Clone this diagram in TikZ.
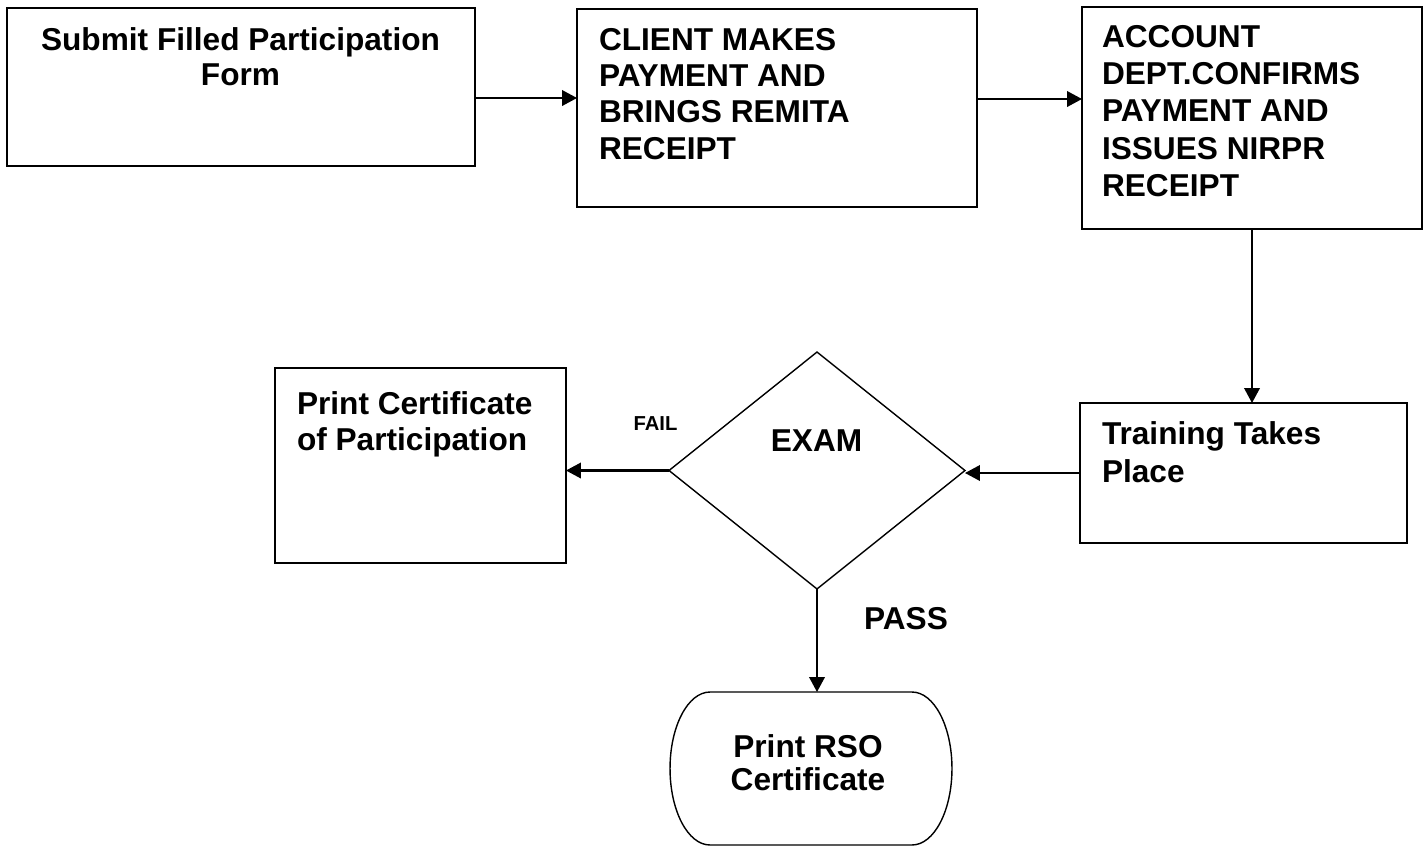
\documentclass[tikz,border=0pt]{standalone}
\usepackage{fontspec}
\setmainfont{Liberation Sans}
\usetikzlibrary{arrows.meta,shapes.geometric}
\begin{document}
\begin{tikzpicture}[x=0.02cm,y=-0.02cm,
  box/.style={draw, line width=1.2pt, rectangle, inner sep=0pt, outer sep=0pt},
  txt/.style={inner sep=0pt, outer sep=0pt, font=\fontsize{18}{20.7}\selectfont\bfseries},
  flow/.style={line width=1.2pt, -{Triangle[length=0.3cm,width=0.31cm]}}]
\useasboundingbox (0,0) rectangle (1427,846);

% process boxes
\node[box, minimum width=9.36cm, minimum height=3.16cm] (form) at (241,87) {};
\node[box, minimum width=8cm, minimum height=3.96cm] (pay) at (777,108) {};
\node[box, minimum width=6.8cm, minimum height=4.44cm] (acct) at (1252,118) {};
\node[box, minimum width=6.54cm, minimum height=2.8cm] (train) at (1243.5,473) {};
\node[box, minimum width=5.82cm, minimum height=3.9cm] (part) at (420.5,465.5) {};

% decision
\node[diamond, draw, line width=0.8pt, inner sep=0pt, outer sep=0pt,
      minimum width=5.92cm, minimum height=4.74cm] (exam) at (817,470.5) {};

% terminator with elliptical ends
\node[rectangle, inner sep=0pt, outer sep=0pt, minimum width=4.04cm, minimum height=3.06cm] (rso) at (811,768.5) {};
\draw[line width=0.8pt] (rso.north west) -- (rso.north east)
  arc[start angle=90, end angle=-90, x radius=0.8cm, y radius=1.53cm]
  -- (rso.south west)
  arc[start angle=270, end angle=90, x radius=0.8cm, y radius=1.53cm] -- cycle;

% texts
\node[txt, anchor=north, align=center, font=\fontsize{18}{19.8}\selectfont\bfseries] (tform) at (240.5,28) {Submit Filled Participation\\Form};
\node[txt, anchor=north west, align=left] (tpay) at (599,28) {CLIENT MAKES\\PAYMENT AND\\BRINGS REMITA\\RECEIPT};
\node[txt, anchor=north west, align=left, font=\fontsize{18}{21.3}\selectfont\bfseries] (tacct) at (1102,25) {ACCOUNT\\DEPT.CONFIRMS\\PAYMENT AND\\ISSUES NIRPR\\RECEIPT};
\node[txt, anchor=north west, align=left, font=\fontsize{18}{21.5}\selectfont\bfseries] (ttrain) at (1102,422) {Training Takes\\Place};
\node[txt, anchor=north west, align=left, font=\fontsize{18}{20.4}\selectfont\bfseries] (tpart) at (297,392) {Print Certificate\\of Participation};
\node[txt, anchor=north, align=center, font=\fontsize{18}{18.7}\selectfont\bfseries] (trso) at (808,735) {Print RSO\\Certificate};
\node[txt] (texam) at (816.5,440.5) {EXAM};
\node[txt, font=\fontsize{11.5}{13}\selectfont\bfseries] (fail) at (655.5,423.5) {FAIL};
\node[txt] (pass) at (906,618.5) {PASS};

% connectors
\draw[flow] ([yshift=-0.22cm]form.east) -- ([yshift=-0.22cm]form.east -| pay.west);
\draw[flow] ([yshift=0.18cm]pay.east) -- ([yshift=0.18cm]pay.east -| acct.west);
\draw[flow] (acct.south) -- (acct.south |- train.north);
\draw[flow] (train.west) -- (train.west -| exam.east);
\draw[flow] (exam.west) -- (exam.west -| part.east);
\draw[flow] (exam.south) -- (exam.south |- rso.north);
\end{tikzpicture}
\end{document}
